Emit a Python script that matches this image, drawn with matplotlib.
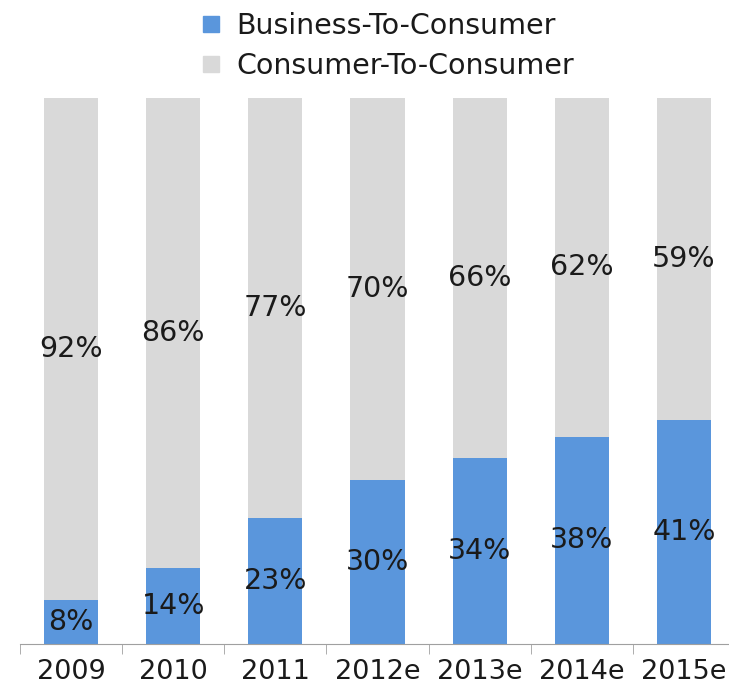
import matplotlib
matplotlib.use('Agg')
import matplotlib.pyplot as plt
from matplotlib.lines import Line2D
import numpy as np

plt.rcParams['font.family'] = ['DejaVu Sans']

years = ['2009', '2010', '2011', '2012e', '2013e', '2014e', '2015e']
b2c = [8, 14, 23, 30, 34, 38, 41]
c2c = [92, 86, 77, 70, 66, 62, 59]

blue = '#5a96dc'
gray = '#d9d9d9'

fig = plt.figure(figsize=(7.29, 6.93), dpi=100)
ax = fig.add_axes([20 / 729, 49 / 693, 715 / 729, 546 / 693])

x = np.arange(len(years))
ax.bar(x, b2c, width=0.53, color=blue)
ax.bar(x, c2c, width=0.53, bottom=b2c, color=gray)

for i in range(len(years)):
    ax.text(x[i], b2c[i] / 2, f'{b2c[i]}%', ha='center', va='center',
            fontsize=20.5, color='#1a1a1a')
    ax.text(x[i], b2c[i] + c2c[i] / 2, f'{c2c[i]}%', ha='center', va='center',
            fontsize=20.5, color='#1a1a1a')

ax.set_xlim(-0.5, len(years) - 0.5)
ax.set_ylim(0, 100)
ax.set_yticks([])
for s in ['top', 'right', 'left']:
    ax.spines[s].set_visible(False)
ax.spines['bottom'].set_color('#a0a0a0')
ax.set_xticks(x)
ax.set_xticklabels(years, fontsize=19.5, color='#1a1a1a')
ax.tick_params(axis='x', which='major', length=0, pad=11)
ax.set_xticks(np.arange(-0.5, len(years)), minor=True)
ax.tick_params(axis='x', which='minor', length=7, color='#a0a0a0', direction='out')

handles = [Line2D([], [], marker='s', linestyle='none', markersize=11.5,
                  markerfacecolor=blue, markeredgecolor=blue),
           Line2D([], [], marker='s', linestyle='none', markersize=11.5,
                  markerfacecolor=gray, markeredgecolor=gray)]
fig.legend(handles, ['Business-To-Consumer', 'Consumer-To-Consumer'],
           loc='upper left', bbox_to_anchor=(180 / 729, 1.008), frameon=False,
           fontsize=20.5, handletextpad=0.39, labelspacing=0.43, handlelength=1.0,
           labelcolor='#1a1a1a', borderaxespad=0.2)

fig.savefig('out.png', dpi=100)
